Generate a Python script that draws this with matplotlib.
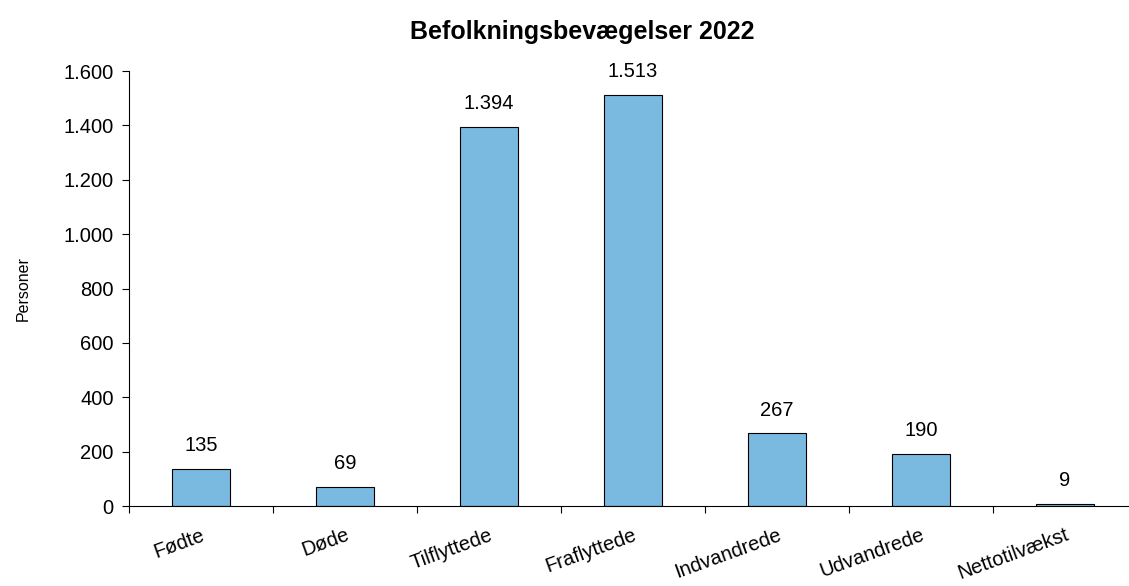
import matplotlib
matplotlib.use("Agg")
import matplotlib.pyplot as plt
from matplotlib.ticker import FuncFormatter, MultipleLocator, FixedLocator

categories = ["Fødte", "Døde", "Tilflyttede", "Fraflyttede",
              "Indvandrede", "Udvandrede", "Nettotilvækst"]
values = [135, 69, 1394, 1513, 267, 190, 9]

plt.rcParams['font.family'] = ['Liberation Sans', 'DejaVu Sans']


def dk(x):
    # danish thousands separator
    return "{:,.0f}".format(x).replace(",", ".")


fig = plt.figure(figsize=(11.29, 5.86), dpi=100)
ax = fig.add_axes([0.1143, 0.1365, 0.8928, 0.7423])

xs = range(len(categories))
ax.bar(xs, values, width=0.4, color="#7BBAE0", edgecolor="black", linewidth=0.8)

for x, v in zip(xs, values):
    ax.annotate(dk(v), (x, v), xytext=(0, 10), textcoords="offset points",
                ha="center", va="bottom", fontsize=14.5)

ax.set_xlim(-0.5, len(categories) - 0.5)
ax.set_ylim(0, 1600)
ax.yaxis.set_major_locator(MultipleLocator(200))
ax.yaxis.set_major_formatter(FuncFormatter(lambda v, p: dk(v)))

ax.xaxis.set_major_locator(FixedLocator([i - 0.5 for i in range(len(categories) + 1)]))
ax.set_xticklabels([])
ax.xaxis.set_minor_locator(FixedLocator(list(xs)))
ax.set_xticklabels(categories, minor=True, rotation=20, ha="right",
                   rotation_mode="anchor", fontsize=14.5)
ax.tick_params(axis="x", which="minor", length=0, pad=14)
ax.tick_params(axis="x", which="major", length=5, direction="out")
ax.tick_params(axis="y", length=5, pad=6, labelsize=14.5)

for s in ["top", "right"]:
    ax.spines[s].set_visible(False)

ax.set_ylabel("Personer", fontsize=11.5)
ax.yaxis.set_label_coords(-0.098, 0.5)
fig.text(0.516, 0.945, "Befolkningsbevægelser 2022", ha="center", va="center",
         fontsize=18, fontweight="bold")

fig.savefig("out.png", dpi=100)
